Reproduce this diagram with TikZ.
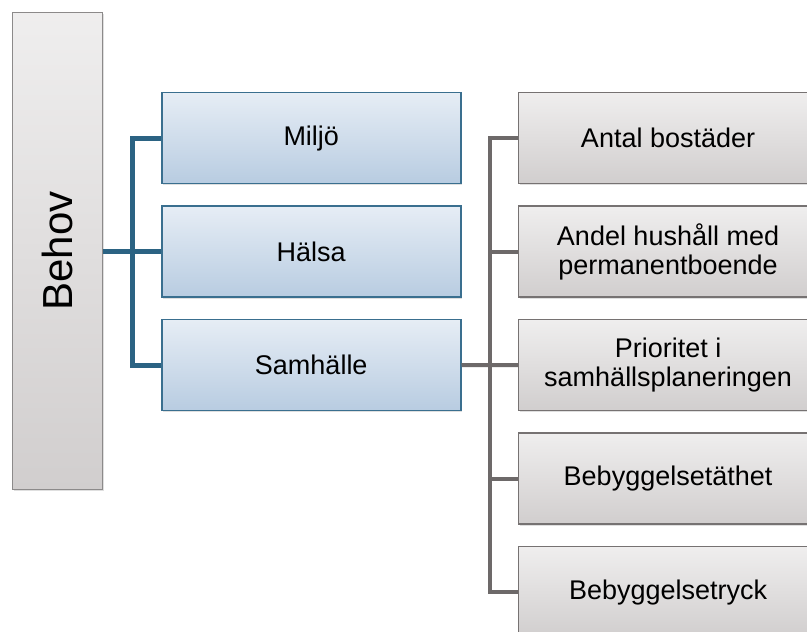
\documentclass[tikz,border=0pt]{standalone}
\usepackage{fontspec}
\setmainfont{Liberation Sans}
\usetikzlibrary{shadows}
\definecolor{bluebord}{HTML}{3A6F8F}
\definecolor{bluetop}{HTML}{E6EDF5}
\definecolor{bluebot}{HTML}{B8CCE1}
\definecolor{blueline}{HTML}{2B6383}
\definecolor{graytop}{HTML}{EFEEEE}
\definecolor{graybot}{HTML}{D1CECE}
\definecolor{graybord}{HTML}{767272}
\definecolor{grayline}{HTML}{6D6969}
\definecolor{behovbord}{HTML}{8C8A8A}
\tikzset{
  x=1pt, y=1pt,
  boxbase/.style={anchor=north west, minimum width=299pt, minimum height=91pt,
    inner sep=0pt, align=center, font=\fontsize{27}{29}\selectfont,
    drop shadow={opacity=0.25, shadow xshift=1.2pt, shadow yshift=-1.5pt}},
  bluebox/.style={boxbase, draw=bluebord, line width=1.5pt, top color=bluetop, bottom color=bluebot},
  graybox/.style={boxbase, draw=graybord, line width=1.1pt, top color=graytop, bottom color=graybot},
  behovbox/.style={anchor=north west, minimum width=90pt, minimum height=477pt, inner sep=0pt,
    draw=behovbord, line width=1.1pt, top color=graytop, bottom color=graybot,
    drop shadow={opacity=0.25, shadow xshift=1.2pt, shadow yshift=-1.5pt}},
  bline/.style={draw=blueline, line width=5pt},
  gline/.style={draw=grayline, line width=4pt},
}
\begin{document}
\begin{tikzpicture}
\path[use as bounding box] (0,0) rectangle (807,632);
\clip (0,0) rectangle (807,632);
\fill[white] (0,0) rectangle (807,632);
% Behov
\node[behovbox] (behov) at (12,620) {};
\node[rotate=90, font=\fontsize{42}{44}\selectfont] (behovtxt) at (behov.center) {Behov};
% blue boxes
\node[bluebox] (miljo) at (161,540) {Miljö};
\node[bluebox] (halsa) at (161,426.5) {Hälsa};
\node[bluebox] (samhalle) at (161,313) {Samhälle};
% gray boxes
\node[graybox] (antal) at (518,540) {Antal bostäder};
\node[graybox] (andel) at (518,426.5) {Andel hushåll med\\permanentboende};
\node[graybox] (prio) at (518,313) {Prioritet i\\samhällsplaneringen};
\node[graybox] (tathet) at (518,199.5) {Bebyggelsetäthet};
\node[graybox] (tryck) at (518,86) {Bebyggelsetryck};
% blue connectors
\coordinate (b1) at ([xshift=-29pt]miljo.west);
\draw[bline] (miljo.west) -- (b1) |- (samhalle.west);
\draw[bline] (behov.east |- halsa.west) -- (halsa.west);
% gray connectors
\coordinate (g1) at ([xshift=-28.5pt]antal.west);
\draw[gline] (antal.west) -- (g1) |- (tryck.west);
\draw[gline] (g1 |- andel.west) -- (andel.west);
\draw[gline] (samhalle.east) -- (prio.west);
\draw[gline] (g1 |- tathet.west) -- (tathet.west);
\end{tikzpicture}
\end{document}
